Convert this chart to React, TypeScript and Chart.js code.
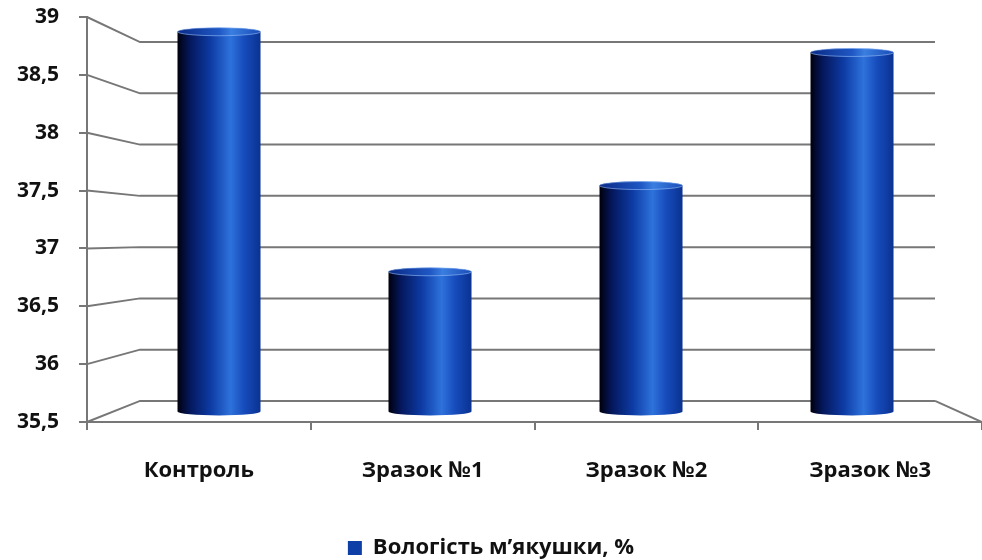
import React, { useEffect, useRef } from 'react';
import { Chart, registerables } from 'chart.js';

Chart.register(...registerables);

const categories = ['Контроль', 'Зразок №1', 'Зразок №2', 'Зразок №3'];
const seriesLabel = 'Вологість м’якушки, %';
const moisture = [38.98, 36.78, 37.57, 38.79];
const axisMin = 35.5;
const axisMax = 39;
const axisStep = 0.5;

const GRID = '#777777';
const FONT = "'Open Sans', 'Noto Sans', sans-serif";

const fmt = (v: number) => String(Math.round(v * 10) / 10).replace('.', ',');

const wallPlugin = {
  id: 'wall3d',
  beforeDatasetsDraw(chart: any) {
    const { ctx, chartArea } = chart;
    const yF = chart.scales.y;
    const yB = chart.scales.yBack;
    const backLeft = chartArea.left + 53;
    const backRight = chartArea.right - 47;
    ctx.save();
    ctx.strokeStyle = GRID;
    ctx.lineWidth = 2;
    yF.ticks.forEach((t: any) => {
      const fy = yF.getPixelForValue(t.value);
      const by = yB.getPixelForValue(t.value);
      ctx.beginPath();
      ctx.moveTo(chartArea.left, fy);
      ctx.lineTo(backLeft, by);
      ctx.lineTo(backRight, by);
      ctx.stroke();
    });
    const fb = yF.getPixelForValue(axisMin);
    const bb = yB.getPixelForValue(axisMin);
    ctx.beginPath();
    ctx.moveTo(backRight, bb);
    ctx.lineTo(chartArea.right, fb);
    ctx.stroke();
    ctx.restore();
  },
};

const cylinderPlugin = {
  id: 'cylinders',
  beforeDatasetDraw(chart: any, args: any) {
    const ctx = chart.ctx;
    const meta = args.meta;
    ctx.save();
    meta.data.forEach((el: any) => {
      const { x, y, base, width } = el.getProps(['x', 'y', 'base', 'width'], true);
      const left = x - width / 2;
      const right = x + width / 2;
      const rx = width / 2;
      const ry = 4;
      const g = ctx.createLinearGradient(left, 0, right, 0);
      g.addColorStop(0, '#00000c');
      g.addColorStop(0.14, '#041659');
      g.addColorStop(0.4, '#0d3ba4');
      g.addColorStop(0.64, '#2e72dc');
      g.addColorStop(0.8, '#174cbc');
      g.addColorStop(1, '#0a3291');
      ctx.beginPath();
      ctx.moveTo(left, y);
      ctx.lineTo(left, base);
      ctx.ellipse(x, base, rx, ry, 0, Math.PI, 0, true);
      ctx.lineTo(right, y);
      ctx.ellipse(x, y, rx, ry, 0, 0, Math.PI, true);
      ctx.closePath();
      ctx.fillStyle = g;
      ctx.fill();
      const gt = ctx.createLinearGradient(left, 0, right, 0);
      gt.addColorStop(0, '#0a2a86');
      gt.addColorStop(0.5, '#1f57c4');
      gt.addColorStop(0.65, '#3a7ee0');
      gt.addColorStop(1, '#1a4cb8');
      ctx.beginPath();
      ctx.ellipse(x, y, rx, ry, 0, 0, Math.PI * 2);
      ctx.fillStyle = gt;
      ctx.fill();
      ctx.strokeStyle = 'rgba(150,190,250,0.6)';
      ctx.lineWidth = 1;
      ctx.stroke();
    });
    ctx.restore();
    return false;
  },
};

export default function App() {
  const ref = useRef<HTMLCanvasElement | null>(null);
  useEffect(() => {
    if (!ref.current) return;
    const chart = new Chart(ref.current, {
      type: 'bar',
      data: {
        labels: categories,
        datasets: [
          {
            label: seriesLabel,
            data: moisture.map((v, i) => ({ x: i, y: [axisMin, v] })) as any,
            backgroundColor: '#0d3fa6',
            xAxisID: 'xBar',
            yAxisID: 'yBar',
            barThickness: 83,
          },
        ],
      },
      options: {
        animation: false,
        responsive: true,
        maintainAspectRatio: false,
        layout: { padding: { top: 17, right: 0, left: 0, bottom: -9 } },
        plugins: {
          tooltip: { enabled: false },
          legend: {
            position: 'bottom',
            labels: {
              boxWidth: 14,
              boxHeight: 14,
              color: '#111',
              padding: 2,
              font: { family: FONT, size: 22, weight: 'bold' },
            },
          },
        },
        scales: {
          x: {
            type: 'category',
            offset: true,
            grid: { offset: true, drawOnChartArea: false, tickLength: 8, color: GRID, lineWidth: 2 },
            border: { display: true, color: GRID, width: 2 },
            ticks: { color: '#111', padding: 28, font: { family: FONT, size: 22, weight: 'bold' } },
            afterFit: (s: any) => { s.height = 113; },
          },
          y: {
            type: 'linear',
            position: 'left',
            min: axisMin,
            max: axisMax,
            ticks: {
              stepSize: axisStep,
              color: '#111',
              padding: 20,
              font: { family: FONT, size: 21, weight: 'bold' },
              callback: (v: any) => fmt(Number(v)),
            },
            grid: { drawOnChartArea: false, tickLength: 8, color: GRID, lineWidth: 2 },
            border: { display: true, color: GRID, width: 2 },
            afterFit: (s: any) => { s.width = 87; s.paddingTop = 0; s.paddingBottom = 0; },
          },
          xBar: { type: 'linear', display: false, offset: false, min: -0.6256, max: 3.616 },
          yBar: { type: 'linear', display: false, min: 35.403, max: 39.115 },
          yBack: { type: 'linear', display: false, min: 35.294, max: 39.245 },
        },
      } as any,
      plugins: [wallPlugin, cylinderPlugin],
    });
    return () => chart.destroy();
  }, []);
  return (
    <div style={{ position: 'absolute', left: 0, top: 0, width: 982, height: 560, background: '#fff' }}>
      <canvas ref={ref} />
    </div>
  );
}
